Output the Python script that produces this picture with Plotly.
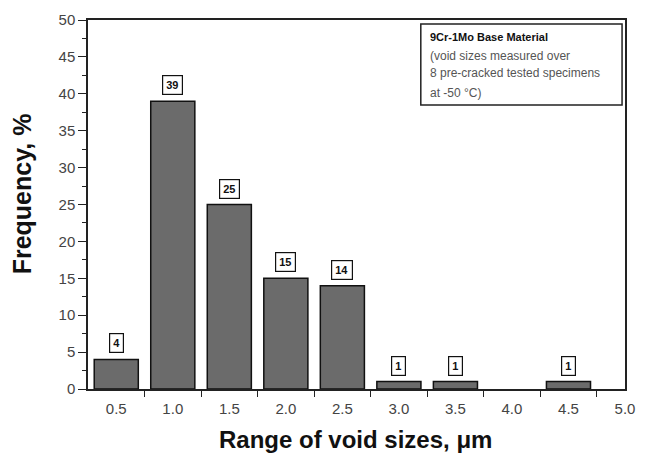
import plotly.graph_objects as go

categories = [0.5, 1.0, 1.5, 2.0, 2.5, 3.0, 3.5, 4.0, 4.5]
frequency = [4, 39, 25, 15, 14, 1, 1, 0, 1]
tick_labels = ["0.5", "1.0", "1.5", "2.0", "2.5", "3.0", "3.5", "4.0", "4.5", "5.0"]
tick_positions = [0.5, 1.0, 1.5, 2.0, 2.5, 3.0, 3.5, 4.0, 4.5, 5.0]
note_lines = ["<b>9Cr-1Mo Base Material</b>", "(void sizes measured over",
              "8 pre-cracked tested specimens", "at -50 \u00b0C)"]

L, R, T, B = 88, 11, 16, 65
PW, PH = 646 - L - R, 454 - T - B

def px(x):
    return (x - L) / PW

def py(y):
    return (454 - B - y) / PH

fig = go.Figure()
fig.add_trace(go.Bar(
    x=[c for c, f in zip(categories, frequency) if f > 0],
    y=[f for f in frequency if f > 0],
    width=0.39,
    marker=dict(color="#6b6b6b", line=dict(color="#111111", width=1.5)),
))

for c, f in zip(categories, frequency):
    if f > 0:
        fig.add_annotation(x=c, y=f, xref="x", yref="y", text=f"<b>{f}</b>",
                           showarrow=False, yshift=16, yanchor="middle",
                           font=dict(family="Arial", size=11, color="#111"),
                           bordercolor="#111", borderwidth=1.2, borderpad=3,
                           bgcolor="white")

# note box
fig.add_shape(type="rect", xref="paper", yref="paper",
              x0=px(427), x1=px(632), y0=py(102), y1=py(20),
              line=dict(color="#222", width=1.5), fillcolor="white")
line_y = [33, 52, 70, 90]
for i, (t, ly) in enumerate(zip(note_lines, line_y)):
    fig.add_annotation(xref="paper", yref="paper", x=px(434), y=py(ly),
                       text=t, showarrow=False, xanchor="left", yanchor="middle",
                       font=dict(family="Arial", size=11 if i == 0 else 12,
                                 color="#111" if i == 0 else "#555"))

# axis titles
fig.add_annotation(xref="paper", yref="paper", x=px(360), y=py(440),
                   text="<b>Range of void sizes, \u03bcm</b>", showarrow=False,
                   xanchor="center", yanchor="middle",
                   font=dict(family="Arial", size=24, color="#111"))
fig.add_annotation(xref="paper", yref="paper", x=px(21), y=py(192),
                   text="<b>Frequency, %</b>", showarrow=False, textangle=-90,
                   xanchor="center", yanchor="middle",
                   font=dict(family="Arial", size=25, color="#111"))

fig.update_layout(
    width=646, height=454,
    margin=dict(l=L, r=R, t=T, b=B),
    plot_bgcolor="white", paper_bgcolor="white",
    showlegend=False,
    font=dict(family="Arial"),
    xaxis=dict(
        range=[0.25, 5.0], tickvals=tick_positions, ticktext=tick_labels,
        ticks="", showgrid=False, zeroline=False,
        showline=True, linecolor="#222", linewidth=1.5, mirror=True,
        tickfont=dict(family="Arial", size=15, color="#444"),
        ticklabelstandoff=5,
        minor=dict(tickvals=[0.75, 1.25, 1.75, 2.25, 2.75, 3.25, 3.75, 4.25, 4.75],
                   ticks="outside", ticklen=6, tickcolor="#222", tickwidth=1.2, showgrid=False),
    ),
    yaxis=dict(
        range=[0, 50], tickvals=list(range(0, 51, 5)),
        ticks="outside", ticklen=8, tickcolor="#222", tickwidth=1.2,
        showgrid=False, zeroline=False,
        showline=True, linecolor="#222", linewidth=1.5, mirror=True,
        tickfont=dict(family="Arial", size=15, color="#444"),
        minor=dict(dtick=2.5, tick0=0, ticks="outside", ticklen=4, tickcolor="#222", showgrid=False),
    ),
)

fig.write_html("out.html")
